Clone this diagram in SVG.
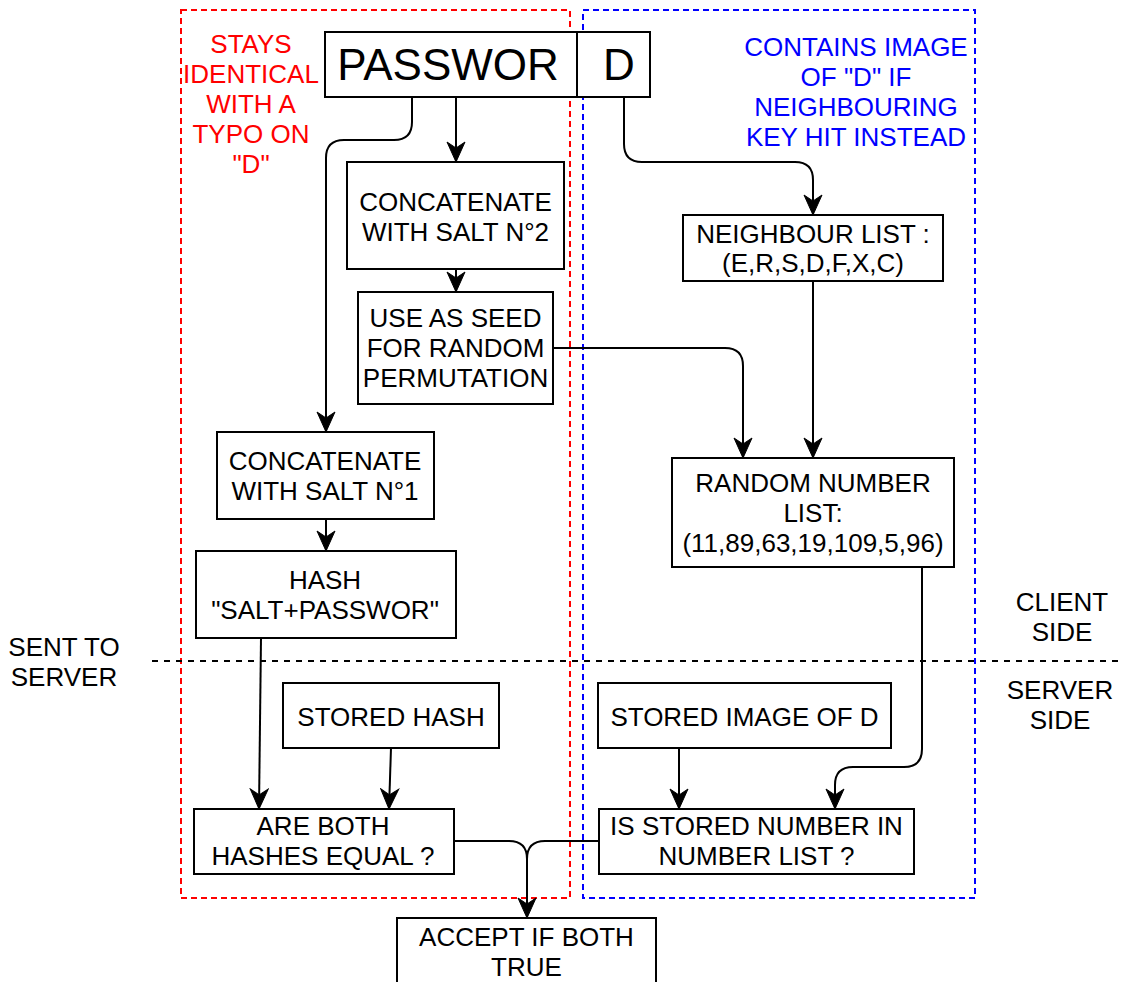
<svg xmlns="http://www.w3.org/2000/svg" width="1121" height="982" viewBox="0 0 1121 982">
<style>
text{font-family:"Liberation Sans",Arial,Helvetica,sans-serif;font-size:26px;fill:#000;text-anchor:middle}
.box{fill:#fff;stroke:#000;stroke-width:2}
.big{font-size:44px}
.red{fill:#ff0000}
.blue{fill:#0000ff}
.conn{fill:none;stroke:#000;stroke-width:2}
.arr{marker-end:url(#ah)}
</style>
<defs>
<marker id="ah" markerUnits="userSpaceOnUse" viewBox="-1 -10 22 20" markerWidth="22" markerHeight="20" refX="20" refY="0" orient="auto">
<path d="M0,-9 L20,0 L0,9 L6,0 Z" fill="#000" stroke="#000" stroke-width="1"/>
</marker>
</defs>
<rect width="1121" height="982" fill="#fff"/>
<g id="containers">
<rect x="181" y="10" width="389" height="888" fill="none" stroke="#ff0000" stroke-width="2" stroke-dasharray="6 4"/>
<rect x="583" y="10" width="392" height="888" fill="none" stroke="#0000ff" stroke-width="2" stroke-dasharray="6 4"/>
<line x1="152" y1="661" x2="1121" y2="661" stroke="#000" stroke-width="2" stroke-dasharray="6 6"/>
</g>
<g id="labels">
<text class="red" x="251" y="53">STAYS</text>
<text class="red" x="251" y="83">IDENTICAL</text>
<text class="red" x="251" y="113">WITH A</text>
<text class="red" x="251" y="143">TYPO ON</text>
<text class="red" x="251" y="173">"D"</text>
<text class="blue" x="856" y="56">CONTAINS IMAGE</text>
<text class="blue" x="856" y="86">OF "D" IF</text>
<text class="blue" x="856" y="116">NEIGHBOURING</text>
<text class="blue" x="856" y="146">KEY HIT INSTEAD</text>
<text x="64" y="656">SENT TO</text>
<text x="64" y="686">SERVER</text>
<text x="1062" y="611">CLIENT</text>
<text x="1062" y="641">SIDE</text>
<text x="1060" y="699">SERVER</text>
<text x="1060" y="729">SIDE</text>
</g>
<g id="connectors">
<path class="conn arr" d="M412,97 L412,122 Q412,140 394,140 L344,140 Q326,140 326,158 L326,432"/>
<path class="conn arr" d="M456,97 L456,162"/>
<path class="conn arr" d="M456,269 L456,292"/>
<path class="conn arr" d="M624,97 L624,144 Q624,162 642,162 L795,162 Q813,162 813,180 L813,215"/>
<path class="conn arr" d="M813,281 L813,458"/>
<path class="conn arr" d="M553,348 L725,348 Q743,348 743,366 L743,458"/>
<path class="conn arr" d="M326,519 L326,551"/>
<path class="conn arr" d="M261,638 L259,809"/>
<path class="conn arr" d="M391,748 L389,809"/>
<path class="conn arr" d="M922,567 L922,749 Q922,767 904,767 L853,767 Q835,767 835,785 L835,809"/>
<path class="conn arr" d="M679,748 L679,809"/>
<path class="conn arr" d="M454,841 L509,841 Q527,841 527,859 L527,918"/>
<path class="conn" d="M599,841 L545,841 Q527,841 527,859"/>
</g>
<g id="passwor"><rect class="box" x="325" y="32" width="252" height="65"/><text class="big" x="448" y="80">PASSWOR</text></g>
<g id="d"><rect class="box" x="577" y="32" width="73" height="65"/><text class="big" x="619" y="80">D</text></g>
<g id="concat2"><rect class="box" x="347" y="162" width="217" height="107"/><text x="455.5" y="211">CONCATENATE</text><text x="455.5" y="241">WITH SALT N°2</text></g>
<g id="seed"><rect class="box" x="358" y="292" width="195" height="112"/><text x="455.5" y="327">USE AS SEED</text><text x="455.5" y="357">FOR RANDOM</text><text x="455.5" y="387">PERMUTATION</text></g>
<g id="concat1"><rect class="box" x="217" y="432" width="217" height="87"/><text x="325" y="470">CONCATENATE</text><text x="325" y="500">WITH SALT N°1</text></g>
<g id="hash"><rect class="box" x="196" y="551" width="260" height="87"/><text x="325" y="589">HASH</text><text x="325" y="619">"SALT+PASSWOR"</text></g>
<g id="neighbour"><rect class="box" x="683" y="215" width="260" height="66"/><text x="813" y="243">NEIGHBOUR LIST :</text><text x="813" y="272">(E,R,S,D,F,X,C)</text></g>
<g id="random"><rect class="box" x="672" y="458" width="282" height="109"/><text x="813" y="492">RANDOM NUMBER</text><text x="813" y="522">LIST:</text><text x="813" y="552">(11,89,63,19,109,5,96)</text></g>
<g id="storedhash"><rect class="box" x="283" y="683" width="216" height="65"/><text x="391" y="726">STORED HASH</text></g>
<g id="storedimage"><rect class="box" x="598" y="683" width="293" height="65"/><text x="744.5" y="726">STORED IMAGE OF D</text></g>
<g id="areboth"><rect class="box" x="194" y="809" width="260" height="65"/><text x="323" y="835">ARE BOTH</text><text x="323" y="865">HASHES EQUAL ?</text></g>
<g id="isstored"><rect class="box" x="599" y="809" width="315" height="65"/><text x="756.5" y="835">IS STORED NUMBER IN</text><text x="756.5" y="865">NUMBER LIST ?</text></g>
<g id="accept"><rect class="box" x="397" y="918" width="259" height="80"/><text x="526.5" y="946">ACCEPT IF BOTH</text><text x="526.5" y="976">TRUE</text></g>
</svg>
